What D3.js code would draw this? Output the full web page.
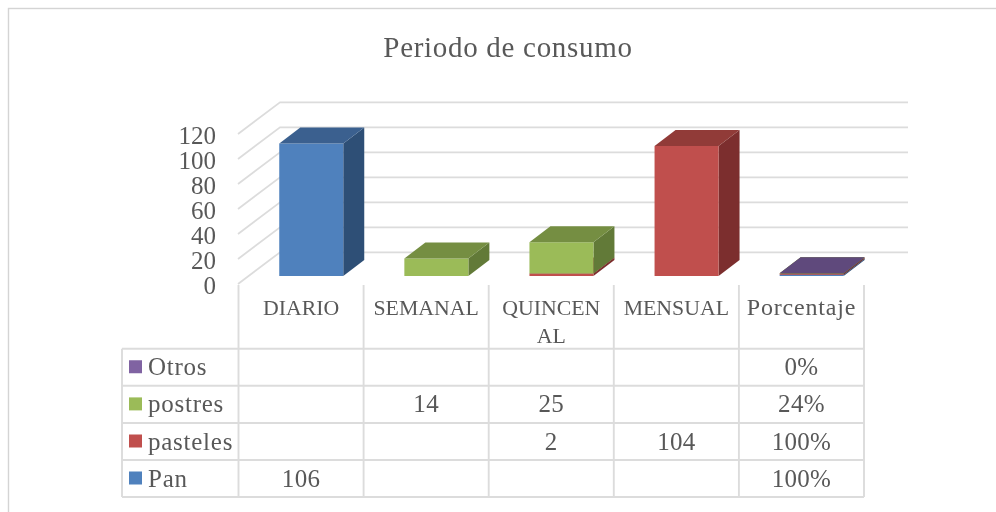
<!DOCTYPE html>
<html><head><meta charset="utf-8">
<script src="https://cdn.jsdelivr.net/npm/d3@7"></script>
<style>html,body{margin:0;background:#fff}svg{display:block}text{font-family:"Liberation Serif",serif;fill:#595959}</style>
</head><body><svg id="c" width="996" height="512"></svg>
<script>
const categories=["DIARIO","SEMANAL","QUINCENAL","MENSUAL","Porcentaje"];
const categoryLines=[["DIARIO"],["SEMANAL"],["QUINCEN","AL"],["MENSUAL"],["Porcentaje"]];
const pan=[106,null,null,null,1];
const pasteles=[null,null,2,104,1];
const postres=[null,14,25,null,0.24];
const otros=[null,null,null,null,0];
const seriesNames=["Pan","pasteles","postres","Otros"];
const seriesFront=["#4f81bd","#c0504d","#9bbb59","#8064a2"];
const seriesTop=["#3a618f","#913a37","#748e42","#5f4a7b"];
const seriesSide=["#2f4f76","#7b2f2d","#627a37","#4e3d66"];
const tableText=[["","","","","0%"],["","14","25","","24%"],["","","2","104","100%"],["106","","","","100%"]];
const yTicks=[0,20,40,60,80,100,120];
const title="Periodo de consumo";
const svg=d3.select("#c");
const defs=svg.append("defs");
defs.append("filter").attr("id","soft").attr("filterUnits","userSpaceOnUse").attr("x",0).attr("y",0).attr("width",996).attr("height",512)
  .append("feGaussianBlur").attr("stdDeviation",0.5);
const root=svg.append("g").attr("filter","url(#soft)");
root.append("rect").attr("x",8.5).attr("y",8.5).attr("width",1100).attr("height",600).attr("fill","#fff").attr("stroke","#d4d4d4").attr("stroke-width",1.4);
const grid="#dcdcdc";
const x=d3.scaleBand().domain(categories).range([238.5,864]);
const y=d3.scaleLinear().domain([0,120]).range([284,134]);
const depthX=42,depthY=31.7;
yTicks.forEach(t=>{
 const yy=y(t);
 root.append("polyline").attr("points",`238,${yy} ${238+depthX},${yy-depthY} 908,${yy-depthY}`).attr("fill","none").attr("stroke",grid).attr("stroke-width",1.8);
 root.append("text").attr("x",216).attr("y",yy+9.5).attr("text-anchor","end").attr("font-size",25).text(t);
});
root.append("text").attr("x",508).attr("y",57).attr("text-anchor","middle").attr("font-size",29).attr("letter-spacing",0.7).text(title);
// bars
const barW=64,bd=21,bh=16,mid=8,midX=10.2;
const unit=(y(0)-y(1));
const series=[pan,pasteles,postres,otros];
categories.forEach((c,i)=>{
 let cum=0;
 const x0=x(c)+(x.bandwidth()-barW)/2+midX;
 const base=y(0)-mid;
 series.forEach((s,k)=>{
  const v=s[i]; if(v==null) return;
  const yb=base-cum*unit, yt=base-(cum+v)*unit;
  const g=root.append("g");
  g.append("polygon").attr("points",`${x0+barW},${yt} ${x0+barW+bd},${yt-bh} ${x0+barW+bd},${yb-bh} ${x0+barW},${yb}`).attr("fill",seriesSide[k]);
  g.append("rect").attr("x",x0).attr("y",yt).attr("width",barW).attr("height",yb-yt).attr("fill",seriesFront[k]);
  g.append("polygon").attr("points",`${x0},${yt} ${x0+bd},${yt-bh} ${x0+barW+bd},${yt-bh} ${x0+barW},${yt}`).attr("fill",seriesTop[k]);
  cum+=v;
 });
});
// table
const rowY=[348.7,385.8,423,460,497];
const colX=x.range()[0];
const bw=x.bandwidth();
const lines=root.append("g").attr("stroke",grid).attr("stroke-width",1.9);
[0,1,2,3,4,5].forEach(i=>lines.append("line").attr("x1",colX+i*bw).attr("x2",colX+i*bw).attr("y1",285).attr("y2",rowY[4]));
rowY.forEach(r=>lines.append("line").attr("x1",122).attr("x2",864).attr("y1",r).attr("y2",r));
lines.append("line").attr("x1",122).attr("x2",122).attr("y1",rowY[0]).attr("y2",rowY[4]);
const isCaps=s=>s===s.toUpperCase();
categoryLines.forEach((ls,i)=>ls.forEach((l,j)=>root.append("text").attr("x",colX+(i+.5)*bw).attr("y",315+j*28).attr("text-anchor","middle")
  .attr("font-size",isCaps(l)?21.8:24).attr("letter-spacing",isCaps(l)?0:0.8).text(l)));
const rows=[3,2,1,0];
rows.forEach((k,r)=>{
 const cy=(rowY[r]+rowY[r+1])/2;
 root.append("rect").attr("x",129).attr("y",cy-7).attr("width",13).attr("height",13).attr("fill",seriesFront[k]);
 root.append("text").attr("x",148).attr("y",cy+8).attr("font-size",25).attr("letter-spacing",0.75).text(seriesNames[k]);
 tableText[r].forEach((t,i)=>{ if(t) root.append("text").attr("x",colX+(i+.5)*bw).attr("y",cy+8).attr("text-anchor","middle").attr("font-size",25).attr("letter-spacing",0.3).text(t); });
});
</script></body></html>
